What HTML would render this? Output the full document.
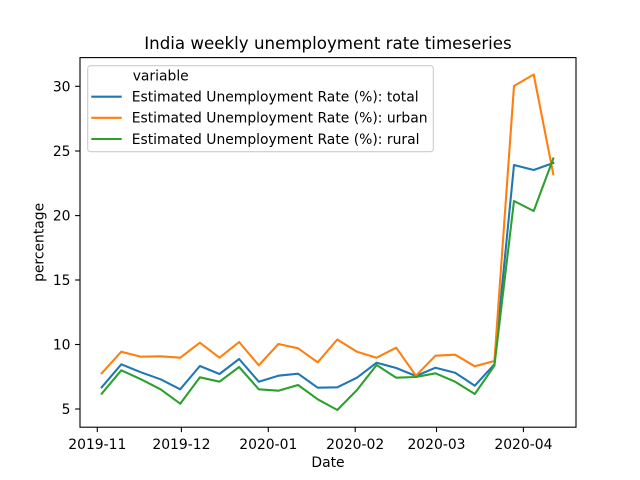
<!DOCTYPE html>
<html>
<head>
<meta charset="utf-8">
<style>
  html, body { margin:0; padding:0; background:#fff; }
  svg { display:block; }
  text { font-family: "DejaVu Sans", "Liberation Sans", sans-serif; fill:#000; }
</style>
</head>
<body>
<svg width="640" height="480" viewBox="0 0 640 480" xmlns="http://www.w3.org/2000/svg">
  <rect x="0" y="0" width="640" height="480" fill="#fff"/>

  <!-- Title -->
  <text x="328" y="49" font-size="16.67" text-anchor="middle">India weekly unemployment rate timeseries</text>

  <!-- Series -->
  <g fill="none" stroke-width="2.08" stroke-linejoin="round" stroke-linecap="square">
    <polyline stroke="#1f77b4" points="101.7,387.3 121.3,364.3 141.0,372.3 160.6,379.3 180.2,389.3 199.9,366 219.5,374 239.1,359 258.8,381.7 278.4,375.7 298.1,373.7 317.7,387.7 337.3,387.3 357.0,377.7 376.6,362.7 396.2,368 415.9,376 435.5,367.7 455.1,372.7 474.8,385.7 494.4,364.3 514.0,165 533.7,170 553.3,163"/>
    <polyline stroke="#ff7f0e" points="101.7,373.3 121.3,351.7 141.0,356.7 160.6,356.3 180.2,357.7 199.9,342.7 219.5,357.7 239.1,342 258.8,365.3 278.4,344 298.1,348.3 317.7,362.3 337.3,339.5 357.0,351.7 376.6,357.7 396.2,347.7 415.9,375.7 435.5,355.7 455.1,354.7 474.8,366.3 494.4,361 514.0,86 533.7,74.5 553.3,174.3"/>
    <polyline stroke="#2ca02c" points="101.7,393.7 121.3,370.3 141.0,379.3 160.6,389.3 180.2,403.7 199.9,377.3 219.5,381.7 239.1,367 258.8,389.3 278.4,390.7 298.1,385 317.7,399.3 337.3,410 357.0,390 376.6,365 396.2,377.7 415.9,377 435.5,373.3 455.1,381.7 474.8,394 494.4,365.7 514.0,201 533.7,211 553.3,158.5"/>
  </g>

  <!-- Axes frame -->
  <rect x="80" y="57.6" width="496" height="369.6" fill="none" stroke="#000" stroke-width="1.1"/>

  <!-- Y ticks -->
  <g stroke="#000" stroke-width="1.1">
    <line x1="75.1" y1="409" x2="80" y2="409"/>
    <line x1="75.1" y1="344.5" x2="80" y2="344.5"/>
    <line x1="75.1" y1="280" x2="80" y2="280"/>
    <line x1="75.1" y1="215.6" x2="80" y2="215.6"/>
    <line x1="75.1" y1="151" x2="80" y2="151"/>
    <line x1="75.1" y1="86.3" x2="80" y2="86.3"/>
  </g>
  <g font-size="13.9" text-anchor="end">
    <text x="70.5" y="414">5</text>
    <text x="70.5" y="349.5">10</text>
    <text x="70.5" y="285">15</text>
    <text x="70.5" y="220.6">20</text>
    <text x="70.5" y="156">25</text>
    <text x="70.5" y="91.3">30</text>
  </g>

  <!-- X ticks -->
  <g stroke="#000" stroke-width="1.1">
    <line x1="97.3" y1="427.2" x2="97.3" y2="432.1"/>
    <line x1="181.4" y1="427.2" x2="181.4" y2="432.1"/>
    <line x1="268.3" y1="427.2" x2="268.3" y2="432.1"/>
    <line x1="355.2" y1="427.2" x2="355.2" y2="432.1"/>
    <line x1="436.5" y1="427.2" x2="436.5" y2="432.1"/>
    <line x1="523.4" y1="427.2" x2="523.4" y2="432.1"/>
  </g>
  <g font-size="13.9" text-anchor="middle">
    <text x="97.3" y="449">2019-11</text>
    <text x="181.4" y="449">2019-12</text>
    <text x="268.3" y="449">2020-01</text>
    <text x="355.2" y="449">2020-02</text>
    <text x="436.5" y="449">2020-03</text>
    <text x="523.4" y="449">2020-04</text>
  </g>

  <!-- Axis labels -->
  <text x="328" y="467" font-size="13.9" text-anchor="middle">Date</text>
  <text transform="translate(43.5,242.4) rotate(-90)" font-size="13.9" text-anchor="middle">percentage</text>

  <!-- Legend -->
  <rect x="87.7" y="65.7" width="345.6" height="86" rx="2.8" ry="2.8" fill="#fff" fill-opacity="0.8" stroke="#cccccc" stroke-width="1.1"/>
  <text x="132.7" y="80.7" font-size="13.9">variable</text>
  <g stroke-width="2.08" stroke-linecap="square">
    <line x1="92.3" y1="96.7" x2="120.7" y2="96.7" stroke="#1f77b4"/>
    <line x1="92.3" y1="117.8" x2="120.7" y2="117.8" stroke="#ff7f0e"/>
    <line x1="92.3" y1="139" x2="120.7" y2="139" stroke="#2ca02c"/>
  </g>
  <g font-size="13.9">
    <text x="131.7" y="101.6">Estimated Unemployment Rate (%): total</text>
    <text x="131.7" y="122.7">Estimated Unemployment Rate (%): urban</text>
    <text x="131.7" y="143.9">Estimated Unemployment Rate (%): rural</text>
  </g>
</svg>
</body>
</html>
